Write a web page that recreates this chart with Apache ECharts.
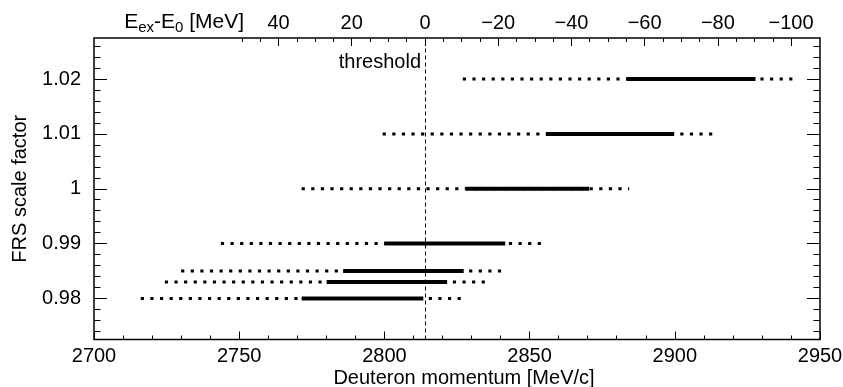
<!DOCTYPE html>
<html>
<head>
<meta charset="utf-8">
<script src="https://cdn.jsdelivr.net/npm/echarts@6/dist/echarts.min.js"></script>
<style>
html,body{margin:0;padding:0;background:#fff;}
#chart{width:843px;height:387px;}
</style>
</head>
<body>
<div id="chart"></div>
<script>
// ---- data ----
const scaleFactors = [1.02, 1.01, 1.00, 0.99, 0.985, 0.983, 0.98];
const dottedStart  = [2827.0, 2799.4, 2771.5, 2743.7, 2730.0, 2724.4, 2716.1];
const dottedEnd    = [2941.0, 2913.3, 2884.3, 2854.2, 2840.6, 2835.0, 2826.7];
const solidStart   = [2883.4, 2855.6, 2828.0, 2800.0, 2785.8, 2780.1, 2771.5];
const solidEnd     = [2927.8, 2899.8, 2870.5, 2841.6, 2827.3, 2821.6, 2813.4];
const thresholdMomentum = 2814.15;

const yTickLabels = [0.98, 0.99, 1.00, 1.01, 1.02];
const yMinorTicks = [0.974, 0.976, 0.978, 0.980, 0.982, 0.984, 0.986, 0.988, 0.990,
                     0.992, 0.994, 0.996, 0.998, 1.000, 1.002, 1.004, 1.006, 1.008,
                     1.010, 1.012, 1.014, 1.016, 1.018, 1.020, 1.022, 1.024, 1.026];
const topTickLabels = [40, 20, 0, -20, -40, -60, -80, -100];
const topMinorTicks = [50, 45, 40, 35, 30, 25, 20, 15, 10, 5, 0, -5, -10, -15, -20, -25,
                       -30, -35, -40, -45, -50, -55, -60, -65, -70, -75, -80, -85, -90, -95, -100];

const xMin = 2700, xMax = 2950;
const yMin = 0.9725, yMax = 1.0275;
const eLeft = 90.4, eRight = -107.9;

const FONT = '"Liberation Sans", Arial, Helvetica, sans-serif';
const black = '#000';

const chart = echarts.init(document.getElementById('chart'), null, {renderer: 'canvas'});

const series = [];
scaleFactors.forEach((sf, i) => {
  series.push({
    type: 'line', xAxisIndex: 0, yAxisIndex: 0, symbol: 'none', silent: true, z: 2,
    data: [[dottedStart[i], sf], [dottedEnd[i], sf]],
    lineStyle: {color: black, width: 3, type: [3.2, 6.4], cap: 'butt'}
  });
  series.push({
    type: 'line', xAxisIndex: 0, yAxisIndex: 0, symbol: 'none', silent: true, z: 3,
    data: [[solidStart[i], sf], [solidEnd[i], sf]],
    lineStyle: {color: black, width: 4, type: 'solid', cap: 'butt'}
  });
});
series.push({
  type: 'line', xAxisIndex: 0, yAxisIndex: 0, symbol: 'none', silent: true, z: 1,
  data: [[thresholdMomentum, yMin], [thresholdMomentum, yMax]],
  lineStyle: {color: black, width: 1, type: [4, 3]}
});

const noLine = () => ({show: false, onZero: false});
const tickStyle = () => ({color: black, width: 1});
const labelStyle = {color: black, fontSize: 20, fontFamily: FONT};
const fmtMinus = v => (v < 0 ? '\u2212' + Math.abs(v) : String(v));

const option = {
  animation: false,
  backgroundColor: '#fff',
  grid: {left: 94, right: 23, top: 38, bottom: 47.5, show: true, containLabel: false,
         outerBoundsMode: 'none',
         borderColor: black, borderWidth: 1.5, backgroundColor: 'transparent'},
  xAxis: [
    {
      type: 'value', position: 'bottom', min: xMin, max: xMax, interval: 50,
      axisLine: noLine(),
      axisTick: {show: true, inside: true, length: 8, lineStyle: tickStyle()},
      minorTick: {show: true, splitNumber: 5, length: 4, lineStyle: tickStyle()},
      splitLine: {show: false}, minorSplitLine: {show: false},
      axisLabel: Object.assign({margin: 7, formatter: v => String(v)}, labelStyle),
      name: 'Deuteron momentum [MeV/c]', nameLocation: 'middle', nameGap: 29,
      nameMoveOverlap: false,
      nameTextStyle: {color: black, fontSize: 20, fontFamily: FONT, padding: [0, 0, 0, 14]}
    },
    {
      type: 'value', position: 'top', inverse: true, min: eRight, max: eLeft,
      axisLine: noLine(),
      axisTick: {show: true, inside: true, length: 8, customValues: topTickLabels, lineStyle: tickStyle()},
      splitLine: {show: false},
      axisLabel: Object.assign({margin: 5, customValues: topTickLabels, formatter: fmtMinus}, labelStyle)
    },
    {
      type: 'value', position: 'top', inverse: true, min: eRight, max: eLeft,
      axisLine: noLine(),
      axisTick: {show: true, inside: true, length: 4, customValues: topMinorTicks, lineStyle: tickStyle()},
      splitLine: {show: false},
      axisLabel: {show: false}
    }
  ],
  yAxis: [
    {
      type: 'value', position: 'left', min: yMin, max: yMax,
      axisLine: noLine(),
      axisTick: {show: true, inside: true, length: 13, customValues: yTickLabels, lineStyle: tickStyle()},
      splitLine: {show: false},
      axisLabel: Object.assign({margin: 13, customValues: yTickLabels,
        formatter: v => String(parseFloat(Number(v).toFixed(3)))}, labelStyle),
      name: 'FRS scale factor', nameLocation: 'middle', nameGap: 64, nameRotate: 90,
      nameMoveOverlap: false,
      nameTextStyle: {color: black, fontSize: 20, fontFamily: FONT}
    },
    {
      type: 'value', position: 'left', min: yMin, max: yMax,
      axisLine: noLine(),
      axisTick: {show: true, inside: true, length: 6.5, customValues: yMinorTicks, lineStyle: tickStyle()},
      splitLine: {show: false}, axisLabel: {show: false}
    },
    {
      type: 'value', position: 'right', min: yMin, max: yMax,
      axisLine: noLine(),
      axisTick: {show: true, inside: true, length: 13, customValues: yTickLabels, lineStyle: tickStyle()},
      splitLine: {show: false}, axisLabel: {show: false}
    },
    {
      type: 'value', position: 'right', min: yMin, max: yMax,
      axisLine: noLine(),
      axisTick: {show: true, inside: true, length: 6.5, customValues: yMinorTicks, lineStyle: tickStyle()},
      splitLine: {show: false}, axisLabel: {show: false}
    }
  ],
  graphic: [
    {
      type: 'text', x: 421, y: 62, z: 10,
      style: {text: 'threshold', fill: black, fontSize: 20, fontFamily: FONT, align: 'right', verticalAlign: 'middle'}
    },
    {
      type: 'text', x: 244, y: 22, z: 10,
      style: {
        text: '{a|E}{s|ex}{a|-E}{s|0}{a| [MeV]}',
        fill: black, align: 'right', verticalAlign: 'middle',
        rich: {
          a: {fontSize: 21, fontFamily: FONT, fill: black, lineHeight: 26, verticalAlign: 'middle'},
          s: {fontSize: 15, fontFamily: FONT, fill: black, lineHeight: 15, verticalAlign: 'bottom'}
        }
      }
    }
  ],
  series: series
};

chart.setOption(option);
</script>
</body>
</html>
